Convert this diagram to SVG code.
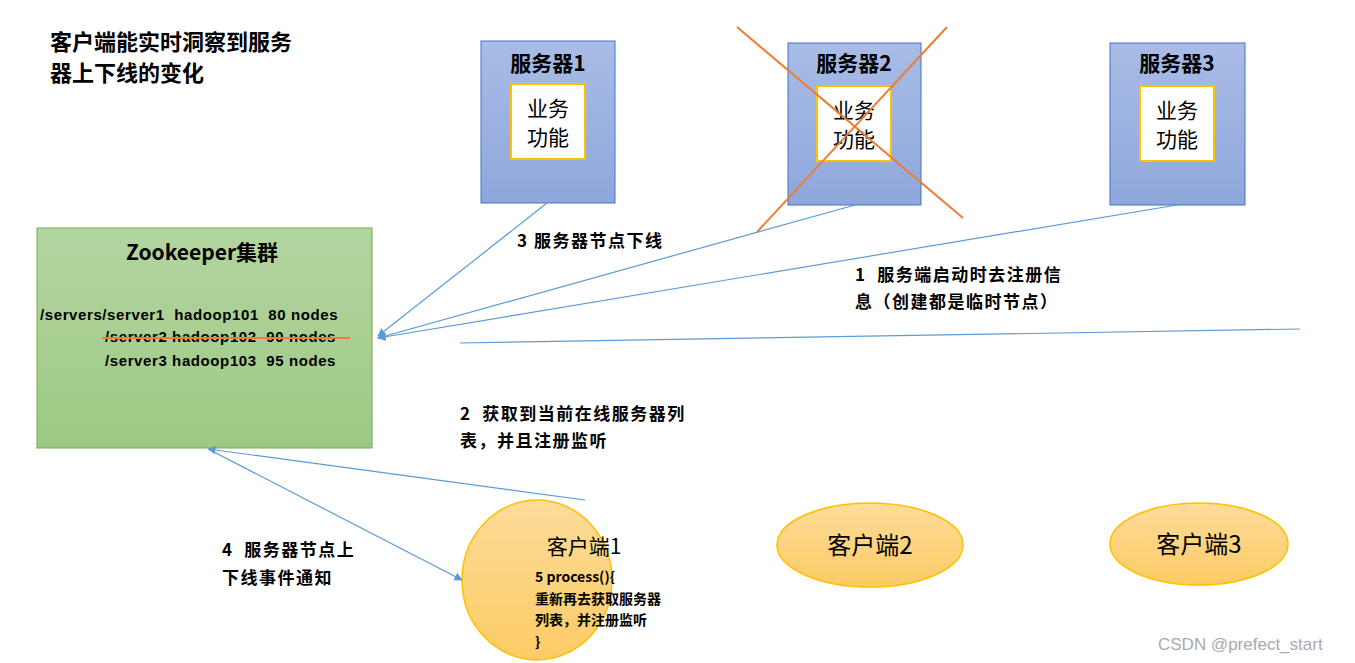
<svg xmlns="http://www.w3.org/2000/svg" width="1355" height="663" viewBox="0 0 1355 663">
<defs>
<linearGradient id="gb" x1="0" y1="0" x2="0" y2="1"><stop offset="0" stop-color="#a9bce6"/><stop offset="1" stop-color="#8ea7dc"/></linearGradient>
<linearGradient id="gg" x1="0" y1="0" x2="0" y2="1"><stop offset="0" stop-color="#b3d5a0"/><stop offset="1" stop-color="#9ec985"/></linearGradient>
<linearGradient id="go" x1="0" y1="0" x2="0" y2="1"><stop offset="0" stop-color="#fddc9a"/><stop offset="1" stop-color="#fccb64"/></linearGradient>
<marker id="ar" viewBox="0 0 10 10" refX="9" refY="5" markerWidth="7" markerHeight="7" orient="auto-start-reverse"><path d="M0,0L10,5L0,10z" fill="#5b9bd5"/></marker>
<style>
text{font-family:"Noto Sans CJK SC","Liberation Sans",sans-serif;fill:#000;white-space:pre}
.b{font-weight:bold}
.srv{fill:url(#gb);stroke:#4472c4;stroke-width:1}
.in{fill:#fff;stroke:#ffc000;stroke-width:2}
.cl{fill:url(#go);stroke:#ffc000;stroke-width:1.5}
.ln{stroke:#5b9bd5;stroke-width:1.2;fill:none}
.zt{font-family:"Liberation Sans",sans-serif;font-weight:bold;font-size:15px;letter-spacing:0.6px}
.lb{font-weight:bold;font-size:17px;letter-spacing:1.5px}
</style>
</defs>
<text class="b" x="50" y="50" font-size="22">客户端能实时洞察到服务</text>
<text class="b" x="50" y="81" font-size="22">器上下线的变化</text>
<g id="server1"><rect class="srv" x="481" y="41" width="134" height="162"/><text class="b" x="548" y="71" font-size="21" text-anchor="middle">服务器1</text><rect class="in" x="511" y="84" width="74" height="75"/><text x="548" y="116" font-size="21" text-anchor="middle">业务</text><text x="548" y="145" font-size="21" text-anchor="middle">功能</text></g>
<g id="server2"><rect class="srv" x="788" y="43" width="133" height="162"/><text class="b" x="854" y="71" font-size="21" text-anchor="middle">服务器2</text><rect class="in" x="817" y="86" width="74" height="75"/><text x="854" y="118" font-size="21" text-anchor="middle">业务</text><text x="854" y="147" font-size="21" text-anchor="middle">功能</text>
<line x1="737" y1="27" x2="963" y2="218" stroke="#ed7d31" stroke-width="2"/><line x1="947" y1="27" x2="757" y2="232" stroke="#ed7d31" stroke-width="2"/></g>
<g id="server3"><rect class="srv" x="1110" y="43" width="135" height="162"/><text class="b" x="1177" y="71" font-size="21" text-anchor="middle">服务器3</text><rect class="in" x="1140" y="86" width="74" height="75"/><text x="1177" y="118" font-size="21" text-anchor="middle">业务</text><text x="1177" y="147" font-size="21" text-anchor="middle">功能</text></g>
<g id="zookeeper"><rect x="37" y="228" width="335" height="220" fill="url(#gg)" stroke="#70ad47"/>
<text class="b" x="202" y="260" font-size="21" text-anchor="middle">Zookeeper集群</text>
<text class="zt" x="40" y="320">/servers/server1  hadoop101  80 nodes</text>
<text class="zt" x="105" y="342">/server2 hadoop102  90 nodes</text>
<line x1="102" y1="338" x2="350" y2="338" stroke="#ed7d31" stroke-width="2"/>
<text class="zt" x="105" y="366">/server3 hadoop103  95 nodes</text></g>
<g id="client1"><ellipse class="cl" cx="537" cy="580" rx="75" ry="80"/><text x="584" y="554" font-size="21" text-anchor="middle">客户端1</text>
<text class="b" x="535" y="582" font-size="14">5 process(){</text><text class="b" x="535" y="604" font-size="14">重新再去获取服务器</text><text class="b" x="535" y="625" font-size="14">列表，并注册监听</text><text class="b" x="535" y="647" font-size="14">}</text></g>
<g id="client2"><ellipse class="cl" cx="870" cy="545" rx="93" ry="42"/><text x="870" y="554" font-size="24" text-anchor="middle">客户端2</text></g>
<g id="client3"><ellipse class="cl" cx="1199" cy="544" rx="89" ry="41"/><text x="1199" y="553" font-size="24" text-anchor="middle">客户端3</text></g>
<g id="connectors">
<line class="ln" x1="547" y1="203" x2="378" y2="336" marker-end="url(#ar)"/>
<line class="ln" x1="855" y1="205" x2="378" y2="338" marker-end="url(#ar)"/>
<line class="ln" x1="1177" y1="205" x2="378" y2="338" marker-end="url(#ar)"/>
<line class="ln" x1="460" y1="343" x2="1300" y2="329"/>
<line class="ln" x1="585" y1="500" x2="208" y2="449" marker-end="url(#ar)"/>
<line class="ln" x1="212" y1="451" x2="462" y2="580" marker-end="url(#ar)"/>
</g>
<text class="lb" x="517" y="247">3 服务器节点下线</text>
<text class="lb" x="855" y="281">1  服务端启动时去注册信</text>
<text class="lb" x="855" y="308">息（创建都是临时节点）</text>
<text class="lb" x="460" y="420">2  获取到当前在线服务器列</text>
<text class="lb" x="460" y="447">表，并且注册监听</text>
<text class="lb" x="222" y="556">4  服务器节点上</text>
<text class="lb" x="222" y="584">下线事件通知</text>
<text x="1158" y="650" font-size="17" style="fill:#aaa;font-family:'Liberation Sans',sans-serif">CSDN @prefect_start</text>
</svg>
